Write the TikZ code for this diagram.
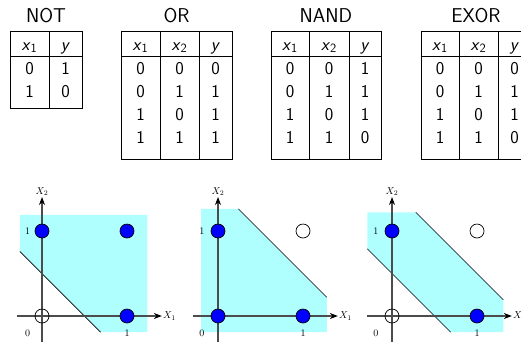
\documentclass[tikz,border=0pt]{standalone}
\usepackage{fontspec}
\usetikzlibrary{arrows.meta}
\definecolor{shadecol}{RGB}{176,255,255}
\definecolor{axisgray}{gray}{0.3}
\newcommand{\vx}[1]{\textsf{\itshape x}$_{\mathsf{#1}}$}
\newcommand{\vy}{\textsf{\itshape y}}
\tikzset{
  title/.style={font=\sffamily\fontsize{20}{24}\selectfont, anchor=base, inner sep=0pt},
  cell/.style={font=\sffamily\fontsize{18}{22}\selectfont, anchor=base, inner sep=0pt},
  gridline/.style={line width=0.9pt},
  region/.style={fill=shadecol},
  sepline/.style={line width=0.7pt},
  axis/.style={draw=axisgray, line width=1.1pt, -{Stealth[length=8pt,width=6pt,black]}},
  pon/.style={circle, draw=black, fill=blue, minimum size=14pt, inner sep=0pt, line width=0.7pt},
  poff/.style={circle, draw=black, minimum size=14pt, inner sep=0pt, line width=0.7pt},
  lbl/.style={font=\fontsize{10}{12}\selectfont, inner sep=1pt}
}
\begin{document}
\begin{tikzpicture}[x=1pt,y=-1pt]
\useasboundingbox (0,0) rectangle (521,341);
\clip (0,0) rectangle (521,341);
% ---------- NOT ----------
\node[title] (nott) at (46,22) {NOT};
\draw[gridline] (10,31) rectangle (82,108);
\draw[gridline] (49,31) -- (49,108);
\draw[gridline] (10,56.5) -- (82,56.5);
\node[cell] (noth1) at (29.5,50) {\vx{1}};
\node[cell] (noth2) at (65.5,50) {\vy};
\node[cell] (not11) at (29.5,74) {0};
\node[cell] (not12) at (65.5,74) {1};
\node[cell] (not21) at (29.5,97) {1};
\node[cell] (not22) at (65.5,97) {0};
% ---------- 2-input tables ----------
\foreach \name/\L/\A/\B/\R/\ttl/\ya/\yb/\yc/\yd in {
  or/121/160/199/232/OR/0/1/1/1,
  nand/271/309/349/381/NAND/1/1/1/0,
  exor/421/459/498/531/EXOR/0/1/1/0}{
  \pgfmathsetmacro{\cA}{(\L+\A)/2}
  \pgfmathsetmacro{\cB}{(\A+\B)/2}
  \pgfmathsetmacro{\cC}{(\B+\R)/2}
  \pgfmathsetmacro{\cT}{(\L+\R)/2}
  \node[title] (\name-t) at (\cT,22) {\ttl};
  \draw[gridline] (\L,31) rectangle (\R,159);
  \draw[gridline] (\A,31) -- (\A,159);
  \draw[gridline] (\B,31) -- (\B,159);
  \draw[gridline] (\L,56.5) -- (\R,56.5);
  \node[cell] (\name-h1) at (\cA,50) {\vx{1}};
  \node[cell] (\name-h2) at (\cB,50) {\vx{2}};
  \node[cell] (\name-h3) at (\cC,50) {\vy};
  \foreach \p/\q/\r [count=\i] in {0/0/\ya,0/1/\yb,1/0/\yc,1/1/\yd}{
    \pgfmathsetmacro{\yy}{74+23*(\i-1)}
    \node[cell] (\name-\i-1) at (\cA,\yy) {\p};
    \node[cell] (\name-\i-2) at (\cB,\yy) {\q};
    \node[cell] (\name-\i-3) at (\cC,\yy) {\r};
  }
}
% ---------- Plot 1 (OR) ----------
\begin{scope}[shift={(42,316)}, x=85pt, y=85pt]
  \fill[region] (-0.26,1.19) -- (1.24,1.19) -- (1.24,-0.19) -- (0.69,-0.19) -- (-0.26,0.76) -- cycle;
  \coordinate (a1) at (-0.26,0.76); \coordinate (a2) at (0.69,-0.19);
  \draw[sepline] (a1) -- (a2);
  \coordinate (ax0) at (-0.3,0); \coordinate (ax1) at (1.41,0);
  \coordinate (ay0) at (0,-0.3); \coordinate (ay1) at (0,1.4);
  \draw[axis] (ax0) -- (ax1);
  \draw[axis] (ay0) -- (ay1);
  \node[lbl, anchor=west] (aX1) at (ax1) {$X_1$};
  \node[lbl, anchor=south] (aX2) at (ay1) {$X_2$};
  \node[poff] (a00) at (0,0) {};
  \node[pon] (a10) at (1,0) {};
  \node[pon] (a01) at (0,1) {};
  \node[pon] (a11) at (1,1) {};
  \node[lbl] (azero) at (-0.17,-0.2) {0};
  \node[lbl] (aoney) at (-0.17,1) {1};
  \node[lbl] (aonex) at (1,-0.2) {1};
\end{scope}
% ---------- Plot 2 (NAND) ----------
\begin{scope}[shift={(218,316)}, x=85pt, y=85pt]
  \fill[region] (-0.2,1.26) -- (0.24,1.26) -- (1.28,0.22) -- (1.28,-0.19) -- (-0.2,-0.19) -- cycle;
  \coordinate (b1) at (0.24,1.26); \coordinate (b2) at (1.28,0.22);
  \draw[sepline] (b1) -- (b2);
  \coordinate (bx0) at (-0.3,0); \coordinate (bx1) at (1.41,0);
  \coordinate (by0) at (0,-0.3); \coordinate (by1) at (0,1.4);
  \draw[axis] (bx0) -- (bx1);
  \draw[axis] (by0) -- (by1);
  \node[lbl, anchor=west] (bX1) at (bx1) {$X_1$};
  \node[lbl, anchor=south] (bX2) at (by1) {$X_2$};
  \node[pon] (b00) at (0,0) {};
  \node[pon] (b10) at (1,0) {};
  \node[pon] (b01) at (0,1) {};
  \node[poff] (b11) at (1,1) {};
  \node[lbl] (bzero) at (-0.19,-0.2) {0};
  \node[lbl] (boney) at (-0.19,1) {1};
  \node[lbl] (bonex) at (1,-0.2) {1};
\end{scope}
% ---------- Plot 3 (EXOR) ----------
\begin{scope}[shift={(392,316)}, x=85pt, y=85pt]
  \fill[region] (-0.29,1.22) -- (0.28,1.22) -- (1.31,0.19) -- (1.31,-0.19) -- (0.69,-0.19) -- (-0.29,0.79) -- cycle;
  \coordinate (c1) at (0.28,1.22); \coordinate (c2) at (1.31,0.19);
  \coordinate (c3) at (-0.29,0.79); \coordinate (c4) at (0.69,-0.19);
  \draw[sepline] (c1) -- (c2);
  \draw[sepline] (c3) -- (c4);
  \coordinate (cx0) at (-0.3,0); \coordinate (cx1) at (1.41,0);
  \coordinate (cy0) at (0,-0.3); \coordinate (cy1) at (0,1.4);
  \draw[axis] (cx0) -- (cx1);
  \draw[axis] (cy0) -- (cy1);
  \node[lbl, anchor=west] (cX1) at (cx1) {$X_1$};
  \node[lbl, anchor=south] (cX2) at (cy1) {$X_2$};
  \node[poff] (c00) at (0,0) {};
  \node[pon] (c10) at (1,0) {};
  \node[pon] (c01) at (0,1) {};
  \node[poff] (c11) at (1,1) {};
  \node[lbl] (czero) at (-0.19,-0.2) {0};
  \node[lbl] (coney) at (-0.19,1) {1};
  \node[lbl] (conex) at (1,-0.2) {1};
\end{scope}
\end{tikzpicture}
\end{document}
